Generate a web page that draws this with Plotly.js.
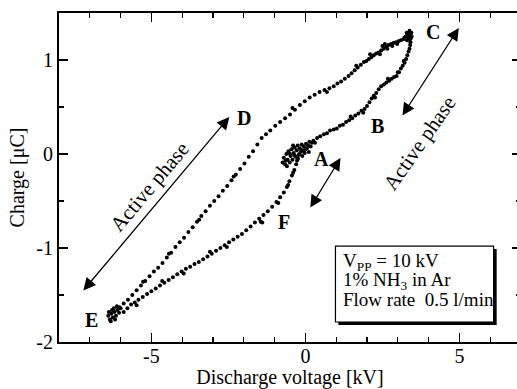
<!DOCTYPE html>
<html><head><meta charset="utf-8">
<script src="https://cdn.plot.ly/plotly-3.0.1.min.js"></script>
<style>html,body{margin:0;padding:0;overflow:hidden;background:#fff}#chart{width:530px;height:389px}</style>
</head><body><div id="chart"></div><script>
// Discharge voltage [kV] / Charge [uC]
const clusterAV = [-0.74,-0.70,-0.66,-0.62,-0.58,-0.55,-0.51,-0.48,-0.45,-0.42,-0.38,-0.35,-0.32,-0.28,-0.25,-0.22,-0.18,-0.15,-0.12,-0.09,-0.05,-0.02,0.02,0.05,0.09,0.13,0.17,0.21,0.26,0.31,-0.60,-0.40,-0.27,-0.10,0.00,-0.64,-0.50,-0.36,-0.20,-0.06,0.11];
const clusterAQ = [-0.09,-0.04,-0.11,0.00,-0.06,0.03,-0.09,-0.02,0.05,-0.06,0.01,0.07,-0.03,0.04,0.09,-0.01,0.06,0.02,0.10,0.04,0.08,0.01,0.11,0.06,0.09,0.13,0.08,0.12,0.14,0.12,-0.13,0.09,-0.07,-0.02,0.05,-0.07,0.00,-0.01,0.00,0.03,0.02];
const risingV = [0.38,0.48,0.60,0.70,0.80,0.92,1.02,1.12,1.22,1.32,1.42,1.52,1.62,1.72,1.82,1.92,2.00,2.08,2.15,2.22,2.30,2.38,2.46,2.55,2.63,2.72,2.80,2.88,2.96,3.04,3.10,3.16,3.22,3.27,3.31,3.35,3.38,3.40,3.41,1.47,1.88,2.26,2.68,3.00,3.19];
const risingQ = [0.17,0.19,0.21,0.22,0.25,0.26,0.27,0.30,0.31,0.34,0.36,0.38,0.41,0.43,0.46,0.48,0.51,0.55,0.59,0.62,0.65,0.69,0.72,0.74,0.76,0.78,0.80,0.82,0.83,0.87,0.91,0.94,0.97,1.01,1.05,1.09,1.12,1.16,1.19,0.40,0.44,0.60,0.80,0.87,0.99];
const clusterCV = [3.30,3.35,3.40,3.44,3.38,3.32,3.26,3.42,3.36,3.29,3.22,3.45,3.39];
const clusterCQ = [1.21,1.24,1.27,1.29,1.31,1.27,1.25,1.23,1.28,1.29,1.24,1.25,1.22];
const fallingV = [3.18,3.10,3.02,2.94,2.86,2.78,2.70,2.62,2.54,2.46,2.38,2.30,2.22,2.14,2.06,1.98,1.90,1.80,1.70,1.60,1.50,1.40,1.28,1.16,1.04,0.92,0.78,0.62,0.46,0.30,0.14,-0.02,-0.18,-0.34,-0.50,-0.66,-0.82,-0.98,-1.14,-1.28,-1.42,-1.56,-1.70,-1.84,-1.98,-2.12,-2.26,-2.40,-2.54,-2.68,-2.82,-2.96,-3.10,-3.24,-3.38,-3.52,-3.66,-3.80,-3.94,-4.08,-4.22,-4.36,-4.50,-4.64,-4.78,-4.92,-5.06,-5.20,-5.34,-5.48,-5.62,-5.76,-5.90,-6.04,2.50,2.10,1.65,0.70,-0.42,-2.33,-3.45,-4.43,-5.27,2.98,2.82,2.66,2.58,2.42];
const fallingQ = [1.22,1.21,1.20,1.19,1.18,1.17,1.16,1.14,1.12,1.10,1.08,1.07,1.05,1.03,1.01,0.99,0.98,0.95,0.92,0.89,0.86,0.83,0.80,0.77,0.75,0.72,0.70,0.68,0.66,0.63,0.60,0.56,0.52,0.47,0.42,0.38,0.34,0.30,0.25,0.21,0.17,0.10,0.03,-0.03,-0.10,-0.16,-0.22,-0.28,-0.34,-0.39,-0.45,-0.50,-0.55,-0.61,-0.66,-0.72,-0.78,-0.83,-0.89,-0.94,-0.99,-1.05,-1.10,-1.16,-1.21,-1.25,-1.30,-1.35,-1.40,-1.45,-1.50,-1.55,-1.59,-1.63,1.15,1.06,0.94,0.66,0.49,-0.24,-0.70,-1.06,-1.36,1.17,1.15,1.12,1.17,1.06];
const clusterEV = [-6.40,-6.35,-6.30,-6.25,-6.20,-6.15,-6.10,-6.28,-6.32,-6.18,-6.05,-6.12,-6.22,-6.00,-6.38];
const clusterEQ = [-1.72,-1.76,-1.70,-1.74,-1.68,-1.72,-1.66,-1.66,-1.78,-1.76,-1.69,-1.62,-1.64,-1.64,-1.68];
const returnV = [-5.90,-5.78,-5.66,-5.54,-5.42,-5.28,-5.14,-5.00,-4.86,-4.72,-4.58,-4.44,-4.30,-4.16,-4.02,-3.88,-3.74,-3.60,-3.46,-3.32,-3.18,-3.04,-2.90,-2.76,-2.62,-2.48,-2.34,-2.20,-2.06,-1.92,-1.78,-1.64,-1.50,-1.36,-1.22,-1.08,-0.94,-0.82,-0.70,-0.60,-0.52,-0.44,-0.36,-0.30,-0.24,-5.48,-4.65,-3.95,-3.10,-2.55,-1.45,-0.88,-0.56,-0.40,-1.40];
const returnQ = [-1.68,-1.64,-1.60,-1.58,-1.55,-1.52,-1.49,-1.46,-1.43,-1.40,-1.37,-1.34,-1.31,-1.28,-1.25,-1.22,-1.20,-1.17,-1.15,-1.12,-1.09,-1.06,-1.03,-1.00,-0.97,-0.94,-0.91,-0.88,-0.85,-0.81,-0.77,-0.73,-0.69,-0.65,-0.61,-0.56,-0.51,-0.46,-0.41,-0.35,-0.29,-0.23,-0.17,-0.11,-0.05,-1.61,-1.35,-1.27,-1.04,-0.99,-0.72,-0.52,-0.33,-0.20,-0.73];

const xTickVals = [-5, 0, 5];
const xTickText = ['-5', '0', '5'];
const yTickVals = [-2, -1, 0, 1];
const yTickText = ['-2', '-1', '0', '1'];
const pointLabels = ['A', 'B', 'C', 'D', 'E', 'F'];
const infoLines = ['V<sub>PP</sub> = 10 kV', '1% NH<sub>3</sub> in Ar', 'Flow rate\u00a0\u00a00.5 l/min'];
const phaseText = 'Active phase';

const V = [].concat(clusterAV, risingV, clusterCV, fallingV, clusterEV, returnV);
const Q = [].concat(clusterAQ, risingQ, clusterCQ, fallingQ, clusterEQ, returnQ);

const serif = 'Liberation Serif, Times New Roman, serif';

const trace = {
  x: V, y: Q, type: 'scatter', mode: 'markers',
  marker: {color: '#000', size: 4},
  hoverinfo: 'skip', showlegend: false
};

const labelPos = [[0.52,-0.05],[2.34,0.30],[4.13,1.30],[-1.98,0.38],[-6.93,-1.77],[-0.68,-0.72]];
const annotations = [];
pointLabels.forEach((t, i) => annotations.push({
  x: labelPos[i][0], y: labelPos[i][1], xref: 'x', yref: 'y', text: '<b>' + t + '</b>',
  showarrow: false, font: {family: serif, size: 20, color: '#000'}
}));
const arrowDefs = [
  [-2.47, 0.394, -7.25, -1.468],
  [4.98, 1.34, 3.12, 0.394],
  [1.14, -0.043, 0.13, -0.585]
];
arrowDefs.forEach(a => annotations.push({
  x: a[0], y: a[1], ax: a[2], ay: a[3], xref: 'x', yref: 'y', axref: 'x', ayref: 'y',
  text: '', showarrow: true, arrowside: 'end+start', arrowhead: 2, startarrowhead: 2,
  arrowsize: 1.9, startarrowsize: 1.9, arrowwidth: 1.3, arrowcolor: '#000', standoff: 0, startstandoff: 0
}));
annotations.push({x: -5.07, y: -0.35, xref: 'x', yref: 'y', text: phaseText, showarrow: false,
  textangle: -50, font: {family: serif, size: 21, color: '#000'}});
annotations.push({x: 3.71, y: 0.117, xref: 'x', yref: 'y', text: phaseText, showarrow: false,
  textangle: -55, font: {family: serif, size: 21, color: '#000'}});
const lineY = [-1.149, -1.351, -1.553];
infoLines.forEach((t, i) => annotations.push({
  x: 1.14, y: lineY[i], xref: 'x', yref: 'y', xanchor: 'left', yanchor: 'middle', text: t,
  showarrow: false, font: {family: serif, size: 19, color: '#000'}
}));

const shapes = [
  {type: 'rect', xref: 'x', yref: 'y', x0: 1.07, x1: 6.21, y0: -1.011, y1: -1.82, fillcolor: '#000', line: {width: 0}},
  {type: 'rect', xref: 'x', yref: 'y', x0: 0.976, x1: 6.11, y0: -0.979, y1: -1.787, fillcolor: '#fff', line: {color: '#000', width: 1.2}}
];

const axisCommon = {
  showgrid: false, zeroline: false, showline: true, linecolor: '#000', linewidth: 2,
  mirror: 'ticks', ticks: 'inside', ticklen: 9, tickwidth: 1.5, tickcolor: '#000',
  tickfont: {family: serif, size: 20, color: '#000'}, tickmode: 'array', fixedrange: true
};

const layout = {
  width: 530, height: 389,
  margin: {l: 59, r: 9, t: 13, b: 47, pad: 0},
  paper_bgcolor: '#fff', plot_bgcolor: '#fff',
  font: {family: serif, color: '#000'},
  xaxis: Object.assign({}, axisCommon, {
    range: [-8, 7], tickvals: xTickVals, ticktext: xTickText, ticklabelstandoff: -5,
    minor: {dtick: 1, tick0: 0, ticklen: 5, tickwidth: 1.3, tickcolor: '#000', ticks: 'inside'},
    title: {text: 'Discharge voltage [kV]', font: {family: serif, size: 20, color: '#000'}, standoff: 6}
  }),
  yaxis: Object.assign({}, axisCommon, {
    range: [-2, 1.5], tickvals: yTickVals, ticktext: yTickText,
    minor: {dtick: 0.5, tick0: 0, ticklen: 5, tickwidth: 1.3, tickcolor: '#000', ticks: 'inside'},
    title: {text: 'Charge [μC]', font: {family: serif, size: 20, color: '#000'}, standoff: 6}
  }),
  annotations: annotations,
  shapes: shapes
};

Plotly.newPlot('chart', [trace], layout, {displayModeBar: false, staticPlot: true});
</script></body></html>
